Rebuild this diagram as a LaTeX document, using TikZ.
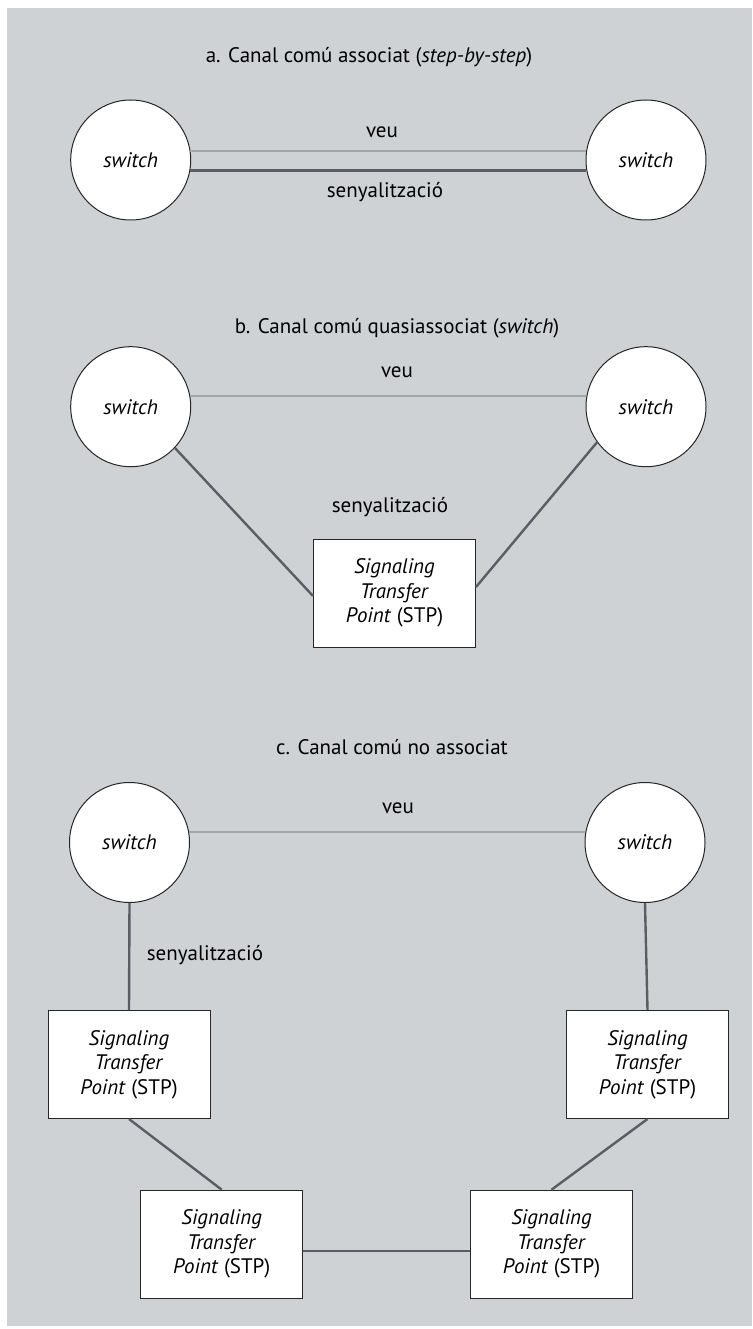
\documentclass[tikz,border=0pt]{standalone}
\usepackage{fontspec}
\setmainfont{PT Sans}
\begin{document}
\begin{tikzpicture}[x=1pt,y=-1pt,
  lbl/.style={font=\fontsize{21}{24}\selectfont, inner sep=0pt},
  sw/.style={circle, draw=black!85, line width=1pt, fill=white, minimum size=120pt, inner sep=0pt, font=\fontsize{21}{24}\selectfont\itshape},
  stpbox/.style={rectangle, draw=black!85, line width=1pt, fill=white, minimum width=162pt, minimum height=108pt, inner sep=0pt, align=center, font=\fontsize{21}{24.5}\selectfont},
  voice/.style={draw=voicegray, line width=2pt},
  signal/.style={draw=siggray, line width=2.4pt}]
\definecolor{bggray}{HTML}{CFD2D5}
\definecolor{voicegray}{HTML}{A3A6A9}
\definecolor{siggray}{HTML}{5A5E62}
\useasboundingbox (0,0) rectangle (752,1329);
\fill[white] (0,0) rectangle (752,1329);
\fill[bggray] (7,8) rectangle (752,1326);

% ---------- a ----------
\node[lbl] (ta) at (369,57) {a. Canal comú associat (\textit{step-by-step})};
\node[sw] (sa1) at (130.7,160) {switch};
\node[sw] (sa2) at (646,160) {switch};
\draw[voice] (sa1.9) -- (sa2.171);
\draw[signal] (sa1.-10) -- (sa2.-170);
\node[lbl] (va) at (382,132) {veu};
\node[lbl] (sna) at (385,192) {senyalització};

% ---------- b ----------
\node[lbl] (tb) at (397,328) {b. Canal comú quasiassociat (\textit{switch})};
\node[sw] (sb1) at (130.7,406.7) {switch};
\node[sw] (sb2) at (646,406.7) {switch};
\node[stpbox] (stpb) at (394.5,593) {\textit{Signaling}\\\textit{Transfer}\\\textit{Point} (STP)};
\draw[voice] (sb1.10) -- (sb2.170);
\draw[signal] (sb1.-43) -- ([yshift=-3pt]stpb.west);
\draw[signal] (sb2.216) -- ([yshift=6pt]stpb.east);
\node[lbl] (vb) at (397,372) {veu};
\node[lbl] (snb) at (390,507) {senyalització};

% ---------- c ----------
\node[lbl] (tc) at (392,747) {c. Canal comú no associat};
\node[sw] (sc1) at (129.5,842.5) {switch};
\node[sw] (sc2) at (645,842.5) {switch};
\node[stpbox] (stp1) at (129,1064.5) {\textit{Signaling}\\\textit{Transfer}\\\textit{Point} (STP)};
\node[stpbox] (stp2) at (647.5,1064.5) {\textit{Signaling}\\\textit{Transfer}\\\textit{Point} (STP)};
\node[stpbox] (stp3) at (221.7,1244.2) {\textit{Signaling}\\\textit{Transfer}\\\textit{Point} (STP)};
\node[stpbox] (stp4) at (551.5,1244.2) {\textit{Signaling}\\\textit{Transfer}\\\textit{Point} (STP)};
\draw[voice] (sc1.10) -- (sc2.170);
\draw[signal] (sc1.south) -- (stp1.north);
\draw[signal] (sc2.south) -- (stp2.north);
\draw[signal] (stp1.south) -- (stp3.north);
\draw[signal] (stp2.south) -- (stp4.north);
\draw[signal] ([yshift=-6.5pt]stp3.east) -- ([yshift=-6.5pt]stp4.west);
\node[lbl] (vc) at (398,808) {veu};
\node[lbl] (snc) at (205,955) {senyalització};
\end{tikzpicture}
\end{document}
